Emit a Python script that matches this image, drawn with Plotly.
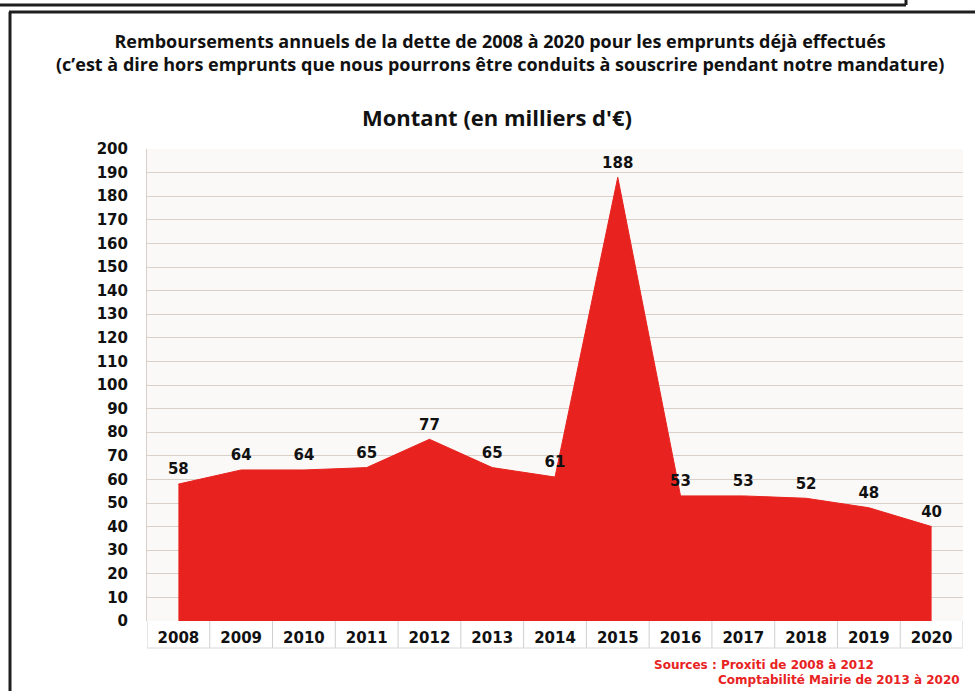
import plotly.graph_objects as go

years = ["2008", "2009", "2010", "2011", "2012", "2013", "2014",
         "2015", "2016", "2017", "2018", "2019", "2020"]
montants = [58, 64, 64, 65, 77, 65, 61, 188, 53, 53, 52, 48, 40]
y_ticks = list(range(0, 201, 10))

W, H = 975, 691
L, R, T, B = 147, 963, 149, 621

def px(X):
    return (X - L) / (R - L)

def py(Y):
    return (B - Y) / (B - T)

RED = "#e8231f"
fig = go.Figure()
fig.add_trace(go.Scatter(
    x=years, y=montants, mode="lines+markers+text",
    fill="tozeroy", fillcolor=RED,
    line=dict(color=RED, width=1),
    marker=dict(size=8, opacity=0, color=RED),
    text=[str(v) for v in montants], textposition="top center",
    textfont=dict(family="DejaVu Sans", size=15, color="#111", weight="bold"),
    cliponaxis=False, hoverinfo="skip", showlegend=False,
))

shapes = []
# label cells under x axis
for i in range(len(years) + 1):
    shapes.append(dict(type="line", xref="x", yref="paper",
                       x0=i - 0.5, x1=i - 0.5, y0=py(648), y1=0,
                       line=dict(color="#cfcfcf", width=1), layer="below"))
shapes.append(dict(type="line", xref="paper", yref="paper",
                   x0=0, x1=1, y0=py(648), y1=py(648),
                   line=dict(color="#d8d8d8", width=1)))
# frame borders
shapes.append(dict(type="line", xref="paper", yref="paper",
                   x0=px(10), x1=px(10), y0=py(12), y1=py(700),
                   line=dict(color="#1e1e1e", width=3)))
shapes.append(dict(type="line", xref="paper", yref="paper",
                   x0=px(9), x1=px(980), y0=py(12), y1=py(12),
                   line=dict(color="#1e1e1e", width=3)))
shapes.append(dict(type="line", xref="paper", yref="paper",
                   x0=px(-5), x1=px(906), y0=py(5), y1=py(5),
                   line=dict(color="#1e1e1e", width=3)))
shapes.append(dict(type="line", xref="paper", yref="paper",
                   x0=px(906), x1=px(906), y0=py(-5), y1=py(5),
                   line=dict(color="#1e1e1e", width=3)))

TF = "Open Sans, sans-serif"
annotations = [
    dict(text="Remboursements annuels de la dette de 2008 à 2020 pour les emprunts déjà effectués"
              "<br>(c’est à dire hors emprunts que nous pourrons être conduits à souscrire pendant notre mandature)",
         x=px(500), y=py(52), xref="paper", yref="paper", showarrow=False, yanchor="middle",
         align="center",
         font=dict(family=TF, size=18, color="#111", weight="bold")),
    dict(text="Montant (en milliers d'€)",
         x=px(497), y=py(117), xref="paper", yref="paper", showarrow=False, yanchor="middle",
         font=dict(family="Open Sans, sans-serif", size=22, color="#111", weight="bold")),
    dict(text="Sources : Proxiti de 2008 à 2012",
         x=px(652), y=py(665), xref="paper", yref="paper", showarrow=False,
         xanchor="left", yanchor="middle",
         font=dict(family="DejaVu Sans", size=12, color=RED, weight="bold")),
    dict(text="Comptabilité Mairie de 2013 à 2020",
         x=px(962), y=py(680), xref="paper", yref="paper", showarrow=False,
         xanchor="right", yanchor="middle",
         font=dict(family="DejaVu Sans", size=12, color=RED, weight="bold")),
]

fig.update_layout(
    width=W, height=H,
    margin=dict(l=L, r=W - R, t=T, b=H - B),
    paper_bgcolor="white", plot_bgcolor="#fbf9f7",
    shapes=shapes, annotations=annotations,
    xaxis=dict(type="category", range=[-0.5, len(years) - 0.5],
               showgrid=False, zeroline=False, showline=False,
               ticks="", ticklabelstandoff=6,
               tickfont=dict(family="DejaVu Sans", size=15, color="#111", weight="bold")),
    yaxis=dict(range=[0, 200], tickvals=y_ticks, ticktext=[str(v) for v in y_ticks],
               showgrid=True, gridcolor="#d9d0c9", gridwidth=1,
               zeroline=False, showline=True, linecolor="#d9d0c9",
               ticks="", ticklabelstandoff=15,
               tickfont=dict(family="DejaVu Sans", size=15, color="#111", weight="bold")),
)

fig.write_html("out.html", config={"displayModeBar": False},
               post_script="document.body.style.margin='0';document.body.style.overflow='hidden';")
